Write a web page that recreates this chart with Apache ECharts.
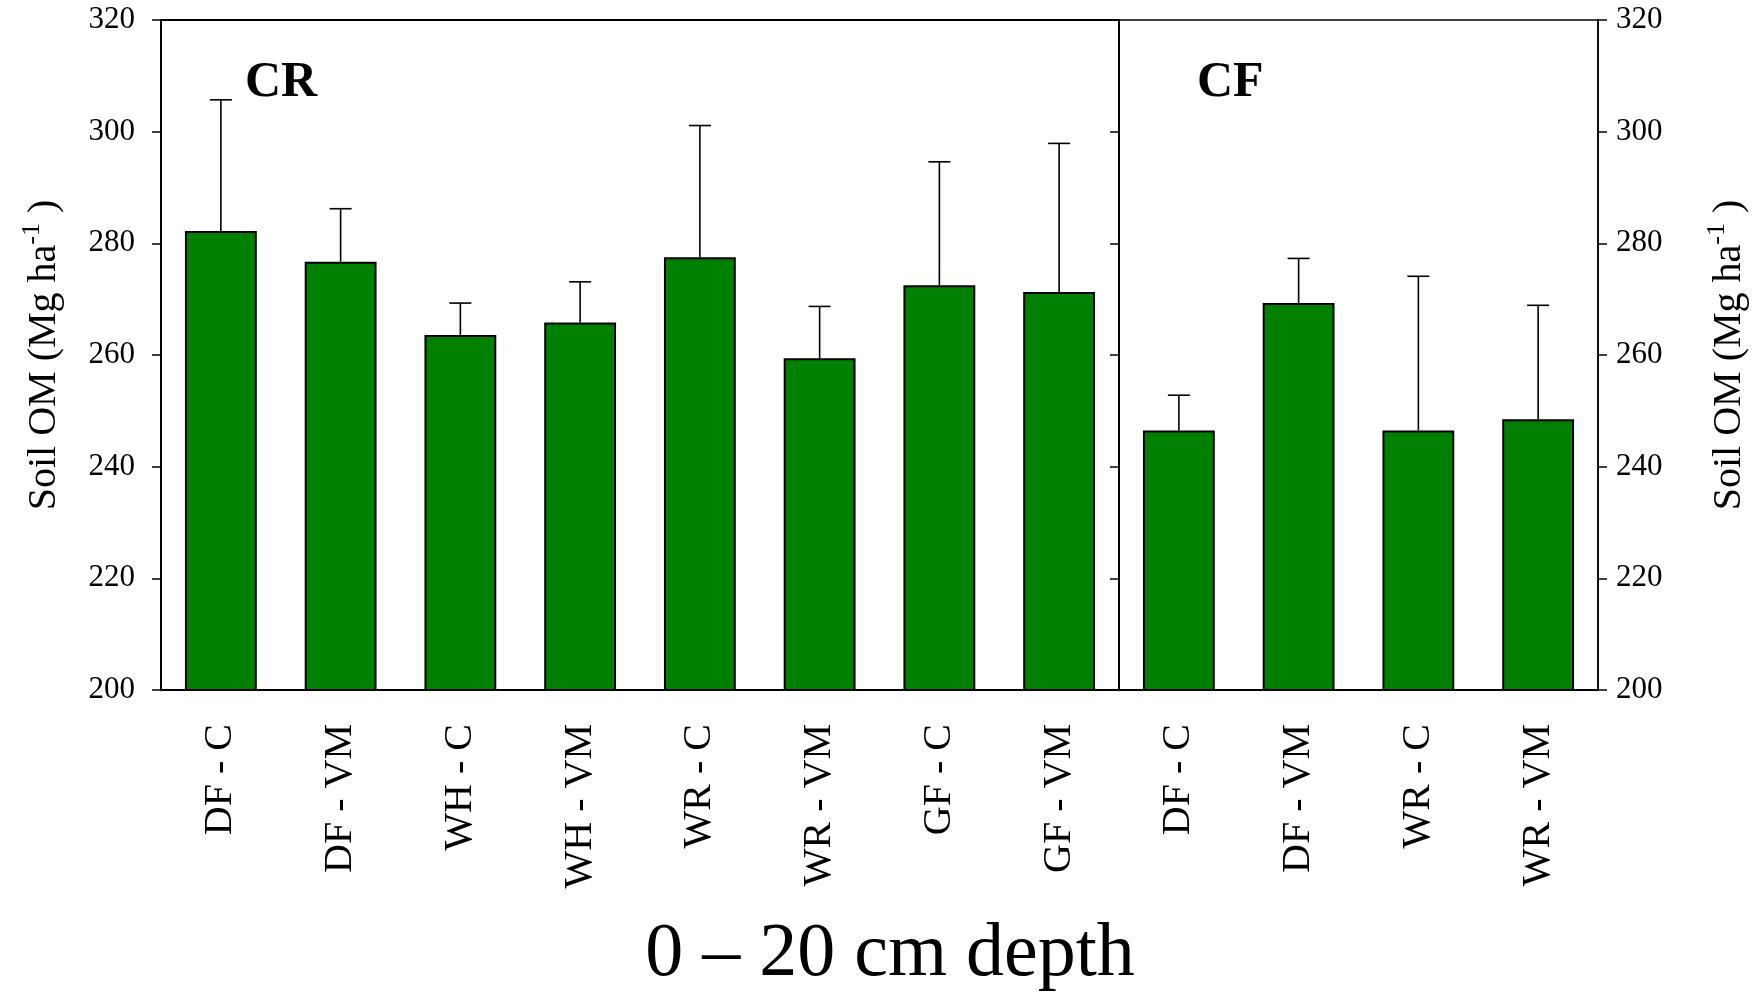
<!DOCTYPE html>
<html>
<head>
<meta charset="utf-8">
<script src="https://cdn.jsdelivr.net/npm/echarts@6/dist/echarts.min.js"></script>
<style>
  html, body { margin: 0; padding: 0; background: #fff; }
  #chart { width: 1763px; height: 993px; }
</style>
</head>
<body>
<div id="chart"></div>
<script>
// Soil organic matter stocks, 0-20 cm, mean with upper standard-deviation bar
const crCategories = ['DF - C', 'DF - VM', 'WH - C', 'WH - VM', 'WR - C', 'WR - VM', 'GF - C', 'GF - VM'];
const crMeans = [282.2, 276.7, 263.6, 265.8, 277.5, 259.4, 272.5, 271.3];
const crSD = [23.5, 9.5, 5.7, 7.3, 23.6, 9.3, 22.1, 26.6];

const cfCategories = ['DF - C', 'DF - VM', 'WR - C', 'WR - VM'];
const cfMeans = [246.5, 269.3, 246.5, 248.5];
const cfSD = [6.3, 8.0, 27.6, 20.4];

const yMin = 200;
const yMax = 320;
const yStep = 20;

const panelLabels = ['CR', 'CF'];
const xTitle = '0 \u2013 20 cm depth';
const yTitle = '{b|Soil OM (Mg ha}{sup|-1}{b| )}';

const SERIF = '"Liberation Serif", "Times New Roman", serif';
const BAR_GREEN = '#008000';

const chart = echarts.init(document.getElementById('chart'), null, { renderer: 'canvas' });

function categoryAxis(gridIndex, data) {
  return {
    type: 'category',
    gridIndex: gridIndex,
    data: data,
    axisLine: { lineStyle: { color: '#000', width: 2 } },
    axisTick: { alignWithLabel: true, length: 10, lineStyle: { color: '#000', width: 1.5 } },
    axisLabel: {
      interval: 0, rotate: 90, margin: 34,
      fontSize: 40, fontFamily: SERIF, color: '#000'
    },
    splitLine: { show: false }
  };
}

const nameRich = {
  b: { fontSize: 40, fontFamily: SERIF, color: '#000' },
  sup: { fontSize: 26, fontFamily: SERIF, color: '#000', padding: [0, 0, 24, 0] }
};

function valueAxis(gridIndex, position, opts) {
  return Object.assign({
    type: 'value',
    gridIndex: gridIndex,
    position: position,
    min: yMin, max: yMax, interval: yStep,
    axisLine: { show: true, lineStyle: { color: '#000', width: 2 } },
    axisTick: { show: true, length: 9, lineStyle: { color: '#000', width: 1.5 } },
    axisLabel: { fontSize: 31, fontFamily: SERIF, color: '#000', margin: 26 },
    splitLine: { show: false }
  }, opts);
}

// Upper error whisker: stem from the bar top plus a short horizontal cap
function errorBarItem(params, api) {
  const x = api.value(0);
  const mean = api.value(1);
  const sd = api.value(2);
  const base = api.coord([x, mean]);
  const top = api.coord([x, mean + sd]);
  const half = 11;
  const style = { stroke: '#000', lineWidth: 1.6 };
  return {
    type: 'group',
    children: [
      { type: 'line', shape: { x1: base[0], y1: base[1], x2: top[0], y2: top[1] }, style: style },
      { type: 'line', shape: { x1: top[0] - half, y1: top[1], x2: top[0] + half, y2: top[1] }, style: style }
    ]
  };
}

const option = {
  backgroundColor: '#fff',
  animation: false,
  grid: [
    { left: 161, right: 644, top: 20, bottom: 303, show: true, borderColor: '#000', borderWidth: 2, backgroundColor: 'transparent' },
    { left: 1119, right: 165, top: 20, bottom: 303, show: true, borderColor: '#000', borderWidth: 1.5, backgroundColor: 'transparent' }
  ],
  xAxis: [
    categoryAxis(0, crCategories),
    categoryAxis(1, cfCategories)
  ],
  yAxis: [
    valueAxis(0, 'left', {
      name: yTitle, nameLocation: 'middle', nameRotate: 90, nameGap: 92,
      nameTextStyle: { rich: nameRich }
    }),
    valueAxis(1, 'left', {
      axisLine: { show: true, lineStyle: { color: '#000', width: 1.5 } },
      axisLabel: { show: false }
    }),
    valueAxis(1, 'right', {
      axisLine: { show: true, lineStyle: { color: '#000', width: 1.5 } },
      axisLabel: { fontSize: 31, fontFamily: SERIF, color: '#000', margin: 18 },
      name: yTitle, nameLocation: 'middle', nameRotate: 90, nameGap: 106,
      nameTextStyle: { rich: nameRich }
    })
  ],
  series: [
    {
      type: 'bar', xAxisIndex: 0, yAxisIndex: 0,
      data: crMeans, barWidth: '60%',
      itemStyle: { color: BAR_GREEN, borderColor: '#000', borderWidth: 2 }
    },
    {
      type: 'bar', xAxisIndex: 1, yAxisIndex: 1,
      data: cfMeans, barWidth: '60%',
      itemStyle: { color: BAR_GREEN, borderColor: '#000', borderWidth: 2 }
    },
    {
      type: 'custom', xAxisIndex: 0, yAxisIndex: 0, z: 5,
      renderItem: errorBarItem,
      encode: { x: 0, y: 1 },
      data: crMeans.map((m, i) => [i, m, crSD[i]])
    },
    {
      type: 'custom', xAxisIndex: 1, yAxisIndex: 1, z: 5,
      renderItem: errorBarItem,
      encode: { x: 0, y: 1 },
      data: cfMeans.map((m, i) => [i, m, cfSD[i]])
    }
  ],
  graphic: [
    { type: 'text', left: 245, top: 58, style: { text: panelLabels[0], font: 'bold 50px ' + SERIF, fill: '#000' } },
    { type: 'text', left: 1197, top: 58, style: { text: panelLabels[1], font: 'bold 50px ' + SERIF, fill: '#000' } },
    { type: 'text', x: 890, y: 955, style: { text: xTitle, font: '76px ' + SERIF, fill: '#000', textAlign: 'center', textVerticalAlign: 'middle' } }
  ]
};

chart.setOption(option);
</script>
</body>
</html>
